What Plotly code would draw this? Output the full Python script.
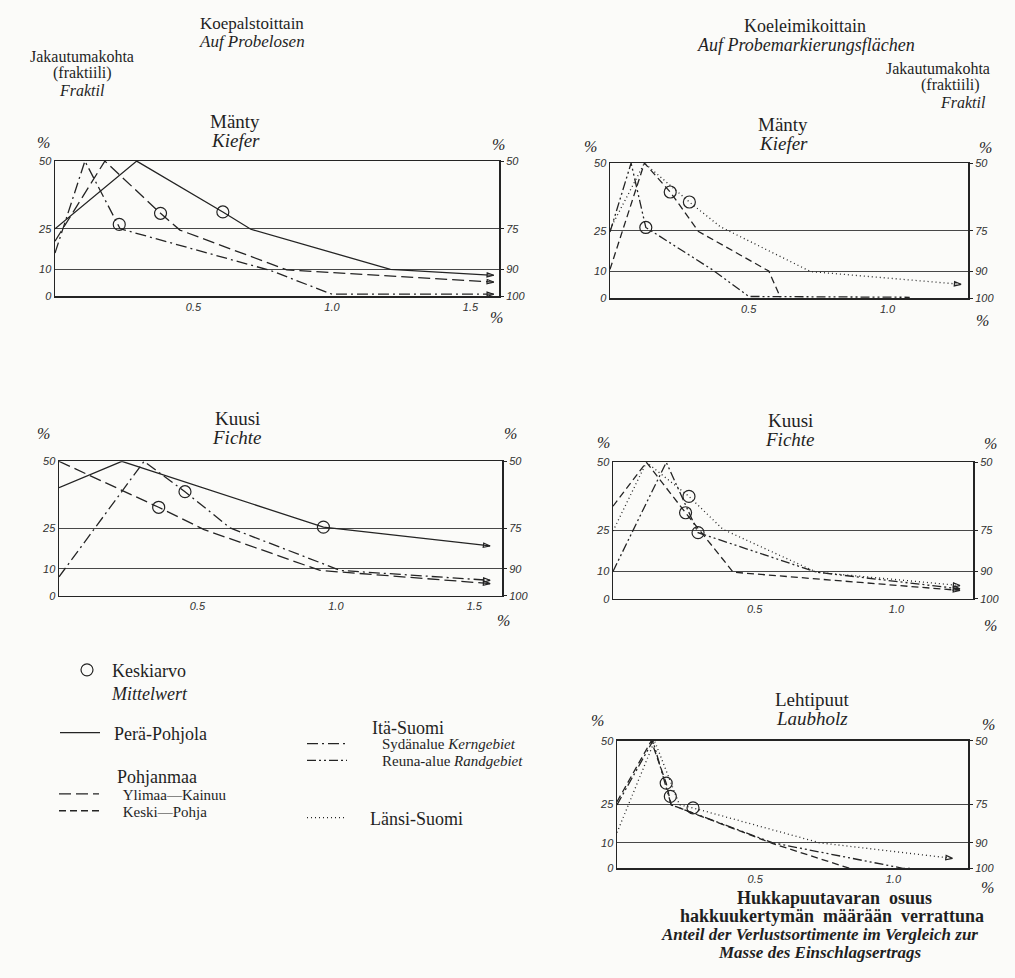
import plotly.graph_objects as go

W, H = 1015, 978

# ---------------- data ----------------
# x: share of waste assortments (%); y: fractile (%) on the 0-50 scale
# (the right-hand axis shows the mirrored fractiles 100-50)

# Panel 1 - Mänty, Koepalstoittain
p1_pera_x = [0, 0.295, 0.606, 0.707, 1.211, 1.584]
p1_pera_y = [25, 50, 31.2, 24.8, 10, 7.8]
p1_ylimaa_x = [0, 0.18, 0.381, 0.451, 0.837, 1.584]
p1_ylimaa_y = [20.4, 50, 30.7, 24.5, 9.8, 5.3]
p1_syda_x = [0, 0.108, 0.235, 0.78, 1.0, 1.584]
p1_syda_y = [16, 50, 25, 9.5, 0.8, 0.8]
p1_mean_x = [0.606, 0.381, 0.232]
p1_mean_y = [31.2, 30.7, 26.6]

# Panel 2 - Mänty, Koeleimikoittain
p2_keski_x = [0, 0.124, 0.217, 0.319, 0.572, 0.614]
p2_keski_y = [10.7, 50, 39.3, 24.7, 10.1, 0.4]
p2_reuna_x = [0, 0.076, 0.129, 0.367, 0.5, 1.08]
p2_reuna_y = [24.5, 50, 26.2, 10.7, 0.7, 0.4]
p2_lansi_x = [0, 0.124, 0.286, 0.397, 0.723, 1.265]
p2_lansi_y = [25.5, 50, 35.6, 26.5, 9.9, 5.2]
p2_mean_x = [0.217, 0.286, 0.129]
p2_mean_y = [39.3, 35.6, 26.2]

# Panel 3 - Kuusi, Koepalstoittain
p3_pera_x = [0, 0.227, 0.955, 1.557]
p3_pera_y = [40.2, 50, 25.5, 18.5]
p3_ylimaa_x = [0, 0.36, 0.524, 0.943, 1.557]
p3_ylimaa_y = [50, 32.9, 24.6, 9.4, 4.5]
p3_syda_x = [0, 0.307, 0.455, 0.618, 1.016, 1.557]
p3_syda_y = [7, 50, 38.7, 25.2, 9.4, 5.7]
p3_mean_x = [0.955, 0.36, 0.455]
p3_mean_y = [25.5, 32.9, 38.7]

# Panel 4 - Kuusi, Koeleimikoittain
p4_keski_x = [0, 0.118, 0.256, 0.424, 1.224]
p4_keski_y = [33.9, 50, 31.5, 9.7, 3.0]
p4_lansi_x = [0, 0.118, 0.268, 0.388, 0.718, 1.224]
p4_lansi_y = [24.8, 50, 37.5, 25.4, 9.7, 4.8]
p4_reuna_x = [0, 0.188, 0.3, 0.718, 1.224]
p4_reuna_y = [10, 50, 24.2, 9.7, 3.6]
p4_mean_x = [0.268, 0.256, 0.3]
p4_mean_y = [37.5, 31.5, 24.2]

# Panel 5 - Lehtipuut, Koeleimikoittain
p5_keski_x = [0, 0.124, 0.178, 0.196, 0.564, 0.841]
p5_keski_y = [26.1, 50, 33.4, 24.9, 9.7, 0]
p5_reuna_x = [0, 0.13, 0.196, 0.564, 1.034, 1.07]
p5_reuna_y = [24.9, 50, 24.9, 10, 0, 0]
p5_lansi_x = [0, 0.136, 0.226, 0.275, 0.733, 1.214]
p5_lansi_y = [14, 50, 24.9, 23.7, 10, 3.9]
p5_mean_x = [0.178, 0.193, 0.275]
p5_mean_y = [33.4, 28.2, 23.7]

left_tickvals = [0, 10, 25, 50]
left_ticktext = ["0", "10", "25", "50"]
right_ticktext = ["100", "90", "75", "50"]
x_tickvals = [0.5, 1.0, 1.5]
x_ticktext = ["0.5", "1.0", "1.5"]

# ---------------- styling ----------------
INK = "#242424"
SERIF = "'Liberation Serif', 'Times New Roman', serif"
NUMFONT = dict(family="'Liberation Sans', Arial, sans-serif", size=11, color="#303030", style="italic")

STYLE = {
    "pera": "solid",
    "ylimaa": "12px,5px",
    "keski": "7px,4px",
    "syda": "11px,4px,2px,4px",
    "reuna": "9px,3px,2px,3px,2px,3px",
    "lansi": "1px,3px",
}
NB = "\u00a0"
NAMES = {
    "pera": NB * 2 + "Perä-Pohjola",
    "ylimaa": NB * 5 + "Ylimaa—Kainuu",
    "keski": NB * 5 + "Keski—Pohja",
    "syda": NB * 8 + "Sydänalue <i>Kerngebiet</i>",
    "reuna": NB * 8 + "Reuna-alue <i>Randgebiet</i>",
    "lansi": NB * 4 + "Länsi-Suomi",
}
LEGEND_ID = {"mean": "legend", "pera": "legend2", "ylimaa": "legend3", "keski": "legend4",
             "syda": "legend5", "reuna": "legend6", "lansi": "legend7"}

panels = [
    dict(x0=55, x1=499, y0=157, y1=294, xmax=1.603,
         series=[("pera", p1_pera_x, p1_pera_y, True), ("ylimaa", p1_ylimaa_x, p1_ylimaa_y, True),
                 ("syda", p1_syda_x, p1_syda_y, True)],
         mean=(p1_mean_x, p1_mean_y)),
    dict(x0=610, x1=968, y0=159, y1=296, xmax=1.29,
         series=[("keski", p2_keski_x, p2_keski_y, False), ("reuna", p2_reuna_x, p2_reuna_y, False),
                 ("lansi", p2_lansi_x, p2_lansi_y, True)],
         mean=(p2_mean_x, p2_mean_y)),
    dict(x0=59, x1=502, y0=461, y1=597, xmax=1.6,
         series=[("pera", p3_pera_x, p3_pera_y, True), ("ylimaa", p3_ylimaa_x, p3_ylimaa_y, True),
                 ("syda", p3_syda_x, p3_syda_y, True)],
         mean=(p3_mean_x, p3_mean_y)),
    dict(x0=613, x1=973, y0=462, y1=600, xmax=1.27,
         series=[("keski", p4_keski_x, p4_keski_y, True), ("lansi", p4_lansi_x, p4_lansi_y, True),
                 ("reuna", p4_reuna_x, p4_reuna_y, True)],
         mean=(p4_mean_x, p4_mean_y)),
    dict(x0=617, x1=968, y0=744, y1=873, xmax=1.27,
         series=[("keski", p5_keski_x, p5_keski_y, False), ("reuna", p5_reuna_x, p5_reuna_y, False),
                 ("lansi", p5_lansi_x, p5_lansi_y, True)],
         mean=(p5_mean_x, p5_mean_y)),
]

fig = go.Figure()
shown = set()
layout_axes = {}

for i, p in enumerate(panels, start=1):
    s = "" if i == 1 else str(i)
    xa, ya, yr = f"x{s}", f"y{s}", f"y{i + 5}"
    layout_axes[f"xaxis{s}"] = dict(
        domain=[p["x0"] / W, p["x1"] / W], range=[0, p["xmax"]], anchor=ya,
        tickvals=[v for v in x_tickvals if v < p["xmax"]],
        ticktext=[t for v, t in zip(x_tickvals, x_ticktext) if v < p["xmax"]],
        showgrid=False, zeroline=False, showline=True, mirror=True,
        linecolor=INK, linewidth=1.5, ticks="", tickfont=NUMFONT, fixedrange=True)
    layout_axes[f"yaxis{s}"] = dict(
        domain=[1 - p["y1"] / H, 1 - p["y0"] / H], range=[0, 50], anchor=xa,
        tickvals=left_tickvals, ticktext=left_ticktext,
        showgrid=True, gridcolor="#474747", gridwidth=1.1, zeroline=False,
        showline=True, mirror=True, linecolor=INK, linewidth=1.5,
        ticks="", tickfont=NUMFONT, fixedrange=True)
    layout_axes[f"yaxis{i + 5}"] = dict(
        overlaying=ya, side="right", anchor=xa, range=[0, 50],
        tickvals=left_tickvals, ticktext=right_ticktext,
        showgrid=False, zeroline=False, showline=False,
        ticks="outside", ticklen=4, tickcolor=INK, tickwidth=1,
        tickfont=NUMFONT, fixedrange=True)

    for key, xs, ys, arrow in p["series"]:
        fig.add_trace(go.Scatter(
            x=xs, y=ys, mode="lines", xaxis=xa, yaxis=ya,
            line=dict(color=INK, width=1.3, dash=STYLE[key]),
            name=NAMES[key], legend=LEGEND_ID[key],
            showlegend=key not in shown, hoverinfo="skip"))
        shown.add(key)
        if arrow:
            fig.add_trace(go.Scatter(
                x=xs[-2:], y=ys[-2:], mode="markers", xaxis=xa, yaxis=ya,
                marker=dict(symbol="arrow-open", angleref="previous", size=7,
                            opacity=[0, 1], color=INK, line=dict(color=INK, width=1.2)),
                showlegend=False, hoverinfo="skip"))

    mx, my = p["mean"]
    fig.add_trace(go.Scatter(
        x=mx, y=my, mode="markers", xaxis=xa, yaxis=yr,
        marker=dict(symbol="circle-open", size=12, color=INK, line=dict(width=1.2, color=INK)),
        name="Keskiarvo<br><i>Mittelwert</i>", legend="legend",
        showlegend=(i == 1), hoverinfo="skip"))


def X(px):
    return px / W


def Y(py):
    return 1 - py / H


annotations = []


def txt(text, x, y, size=15, anchor="center", italic=False, bold=False, family=SERIF):
    font = dict(family=family, size=size, color="#1f1f1f")
    if italic:
        font["style"] = "italic"
    if bold:
        font["weight"] = "bold"
    annotations.append(dict(
        text=text, x=X(x), y=Y(y), xref="paper", yref="paper", showarrow=False,
        xanchor=anchor, yanchor="middle", font=font))


# headers
txt("Koepalstoittain", 252, 18, 17)
txt("Auf Probelosen", 252, 36, 17, italic=True)
txt("Jakautumakohta", 82, 51, 16)
txt("(fraktiili)", 82, 68, 16)
txt("Fraktil", 82, 86, 16, italic=True)
txt("Koeleimikoittain", 805, 20, 18)
txt("Auf Probemarkierungsflächen", 806, 39, 18, italic=True)
txt("Jakautumakohta", 938, 63, 16)
txt("(fraktiili)", 950, 80, 16)
txt("Fraktil", 963, 98, 16, italic=True)

# panel titles
for name, sub, cx, cy in [("Mänty", "Kiefer", 235, 117), ("Mänty", "Kiefer", 783, 120),
                          ("Kuusi", "Fichte", 237, 418), ("Kuusi", "Fichte", 790, 420),
                          ("Lehtipuut", "Laubholz", 812, 702)]:
    txt(name, cx, cy, 19)
    txt(sub, cx, cy + 19, 19, italic=True)

# percent signs
for (lx, ly), (rx, ry), (bx, by) in [((43, 138), (498, 140), (496, 315)),
                                     ((590, 142), (985, 143), (982, 318)),
                                     ((43, 433), (510, 433), (503, 622)),
                                     ((603, 442), (990, 443), (990, 627)),
                                     ((597, 723), (988, 727), (987, 892))]:
    for px_, py_ in [(lx, ly), (rx, ry), (bx, by)]:
        txt("%", px_, py_, 16, italic=True)

# legend group headings
txt("Pohjanmaa", 115, 781, 18, anchor="left")
txt("Itä-Suomi", 370, 731, 18, anchor="left")

# bottom caption
txt("Hukkapuutavaran  osuus", 834, 903, 18, bold=True)
txt("hakkuukertymän  määrään  verrattuna", 832, 921, 18, bold=True)
txt("Anteil der Verlustsortimente im Vergleich zur", 819, 940, 17, italic=True, bold=True)
txt("Masse des Einschlagsertrags", 820, 958, 17, italic=True, bold=True)


def leg(x, y, valign="middle", size=16):
    return dict(x=X(x), y=Y(y), xanchor="left", yanchor="middle", xref="paper", yref="paper",
                bgcolor="rgba(0,0,0,0)", borderwidth=0,
                font=dict(family=SERIF, size=size, color="#1f1f1f"),
                itemwidth=40, valign=valign, itemclick=False, itemdoubleclick=False)


fig.update_layout(
    width=W, height=H, autosize=False,
    margin=dict(l=0, r=0, t=0, b=0),
    paper_bgcolor="#fbfbf9", plot_bgcolor="rgba(0,0,0,0)",
    annotations=annotations,
    legend=leg(62, 684, "top", 18),
    legend2=leg(55, 736, size=18),
    legend3=leg(54, 798, size=15),
    legend4=leg(54, 815, size=15),
    legend5=leg(302, 747, size=15),
    legend6=leg(302, 764, size=15),
    legend7=leg(302, 822, size=18),
    **layout_axes,
)

fig.write_html("out.html", config={"displayModeBar": False, "staticPlot": True},
               post_script="document.body.style.margin='0';document.body.style.overflow='hidden';")
